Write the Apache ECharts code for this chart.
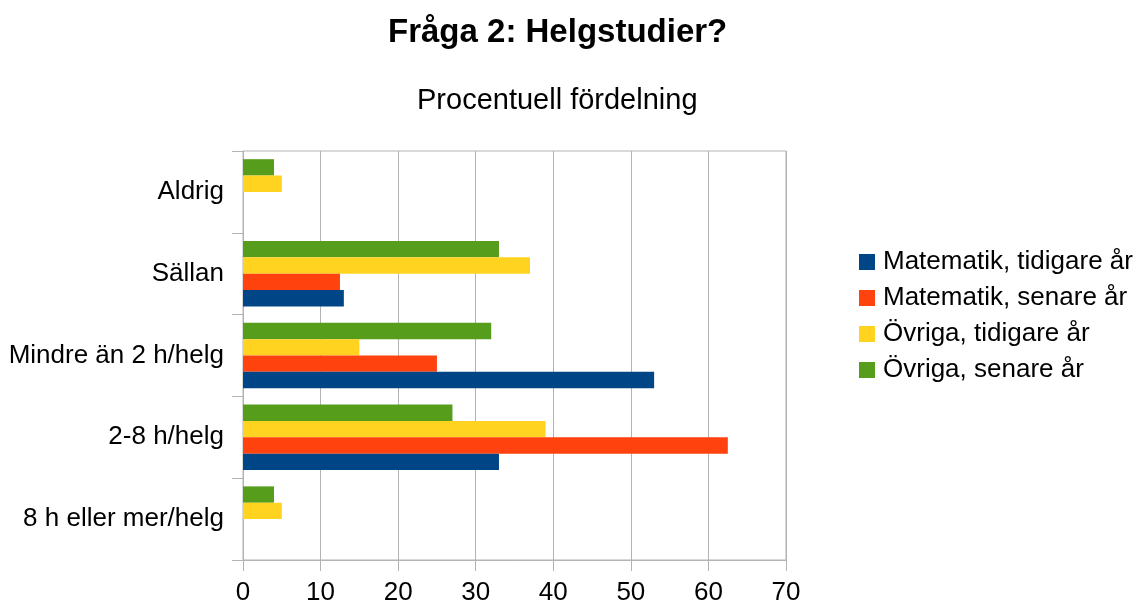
<!DOCTYPE html>
<html>
<head>
<meta charset="utf-8">
<script src="https://cdn.jsdelivr.net/npm/echarts@6/dist/echarts.min.js"></script>
<style>
html,body{margin:0;padding:0;background:#fff;}
#chart{width:1139px;height:608px;}
</style>
</head>
<body>
<div id="chart"></div>
<script>
const categories = ['8 h eller mer/helg', '2-8 h/helg', 'Mindre än 2 h/helg', 'Sällan', 'Aldrig'];
const seriesNames = ['Matematik, tidigare år', 'Matematik, senare år', 'Övriga, tidigare år', 'Övriga, senare år'];
const matTidigare = [0, 33, 53, 13, 0];
const matSenare = [0, 62.5, 25, 12.5, 0];
const ovrTidigare = [5, 39, 15, 37, 5];
const ovrSenare = [4, 27, 32, 33, 4];
const valueTicks = [0, 10, 20, 30, 40, 50, 60, 70];
const colors = ['#004586', '#ff420e', '#ffd320', '#579d1c'];

const font = '"Liberation Sans", Arial, sans-serif';
const chart = echarts.init(document.getElementById('chart'));
const seriesData = [matTidigare, matSenare, ovrTidigare, ovrSenare];
// ECharts stacks horizontal bars top-down in series order; reverse so the first series sits at the bottom
const order = [3, 2, 1, 0];
chart.setOption({
  animation: false,
  textStyle: { fontFamily: font },
  title: [
    { text: 'Fråga 2: Helgstudier?', left: 383, top: 11,
      textStyle: { fontFamily: font, fontSize: 33, fontWeight: 'bold', color: '#000' } },
    { text: 'Procentuell fördelning', left: 412, top: 81,
      textStyle: { fontFamily: font, fontSize: 29, fontWeight: 'normal', color: '#000' } }
  ],
  legend: {
    orient: 'vertical', left: 854, top: 244, itemWidth: 16, itemHeight: 16, itemGap: 10,
    icon: 'rect',
    data: seriesNames,
    textStyle: { fontFamily: font, fontSize: 26, color: '#000', lineHeight: 26, padding: [0, 0, 0, 3] }
  },
  grid: { left: 243, right: 353, top: 151, bottom: 48, show: true, borderColor: '#b3b3b3', borderWidth: 1, containLabel: false },
  xAxis: {
    type: 'value', min: valueTicks[0], max: valueTicks[valueTicks.length - 1], interval: 10,
    axisLine: { show: true, lineStyle: { color: '#b3b3b3' } },
    axisTick: { show: true, length: 11, lineStyle: { color: '#b3b3b3' } },
    splitLine: { show: true, lineStyle: { color: '#b3b3b3' } },
    axisLabel: { fontFamily: font, fontSize: 26, color: '#000', margin: 20 }
  },
  yAxis: {
    type: 'category', data: categories,
    axisLine: { show: true, lineStyle: { color: '#b3b3b3' } },
    axisTick: { show: true, length: 11, lineStyle: { color: '#b3b3b3' } },
    axisLabel: { fontFamily: font, fontSize: 26, color: '#000', margin: 19 }
  },
  series: order.map(i => ({
    name: seriesNames[i], type: 'bar', data: seriesData[i], barGap: '0%', barCategoryGap: '20%',
    itemStyle: { color: colors[i] }
  }))
});
</script>
</body>
</html>
